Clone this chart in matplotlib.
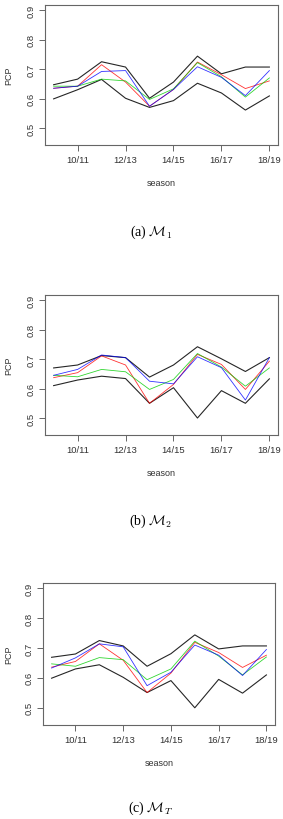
import matplotlib
matplotlib.use('Agg')
import matplotlib.pyplot as plt

plt.rcParams['font.family'] = ['Liberation Sans', 'DejaVu Sans']
plt.rcParams['mathtext.fontset'] = 'cm'

seasons = ['09/10', '10/11', '11/12', '12/13', '13/14',
           '14/15', '15/16', '16/17', '17/18', '18/19']
tick_seasons = ['10/11', '12/13', '14/15', '16/17', '18/19']

# panel (a) M_1
m1_upper = [0.647, 0.666, 0.725, 0.707, 0.601, 0.656, 0.744, 0.684, 0.707, 0.707]
m1_lower = [0.599, 0.630, 0.665, 0.601, 0.570, 0.593, 0.652, 0.619, 0.561, 0.609]
m1_red = [0.635, 0.642, 0.715, 0.656, 0.574, 0.631, 0.724, 0.681, 0.634, 0.660]
m1_green = [0.642, 0.642, 0.666, 0.660, 0.597, 0.633, 0.722, 0.674, 0.605, 0.670]
m1_blue = [0.635, 0.642, 0.692, 0.695, 0.574, 0.631, 0.708, 0.672, 0.610, 0.695]

# panel (b) M_2
m2_upper = [0.670, 0.680, 0.712, 0.705, 0.639, 0.680, 0.742, 0.701, 0.658, 0.705]
m2_lower = [0.610, 0.629, 0.642, 0.634, 0.550, 0.603, 0.500, 0.593, 0.550, 0.633]
m2_red = [0.637, 0.654, 0.711, 0.680, 0.550, 0.614, 0.716, 0.682, 0.597, 0.693]
m2_green = [0.645, 0.640, 0.665, 0.657, 0.597, 0.631, 0.719, 0.673, 0.608, 0.670]
m2_blue = [0.645, 0.665, 0.714, 0.705, 0.625, 0.616, 0.708, 0.671, 0.561, 0.705]

# panel (c) M_T
mt_upper = [0.669, 0.680, 0.725, 0.707, 0.639, 0.681, 0.744, 0.697, 0.707, 0.707]
mt_lower = [0.599, 0.630, 0.644, 0.602, 0.551, 0.591, 0.500, 0.595, 0.549, 0.610]
mt_red = [0.636, 0.655, 0.714, 0.659, 0.551, 0.616, 0.719, 0.685, 0.635, 0.676]
mt_green = [0.647, 0.639, 0.668, 0.661, 0.594, 0.630, 0.723, 0.673, 0.610, 0.670]
mt_blue = [0.633, 0.667, 0.714, 0.704, 0.574, 0.619, 0.710, 0.676, 0.608, 0.695]

captions = [r'(a) $\mathcal{M}_1$', r'(b) $\mathcal{M}_2$', r'(c) $\mathcal{M}_T$']

W, H = 283, 820
fig = plt.figure(figsize=(W / 100, H / 100), dpi=100)


def px_axes(left, top, right, bottom):
    return fig.add_axes([left / W, 1 - bottom / H, (right - left) / W, (bottom - top) / H])


panels = [
    ((45, 6, 278, 146), (m1_upper, m1_lower, m1_red, m1_green, m1_blue), 232),
    ((45, 296, 278, 436), (m2_upper, m2_lower, m2_red, m2_green, m2_blue), 521),
    ((43, 584, 275, 726), (mt_upper, mt_lower, mt_red, mt_green, mt_blue), 808),
]

x = list(range(len(seasons)))
colors = ['black', 'black', '#ff0000', '#00cc00', '#0000ff']
frame = '#666666'

for (box, series, cap_y) in panels:
    ax = px_axes(*box)
    for vals, c in zip(series, colors):
        lw = 0.8 if c == 'black' else 0.6
        ax.plot(x, vals, color=c, linewidth=lw, alpha=0.85 if c == 'black' else 0.8)
    ax.set_xlim(-0.36, 9.36)
    ax.set_ylim(0.4424, 0.9176)
    ax.set_xticks([seasons.index(s) for s in tick_seasons])
    ax.set_xticklabels(tick_seasons)
    ax.set_yticks([0.5, 0.6, 0.7, 0.8, 0.9])
    ax.set_yticklabels(['0.5', '0.6', '0.7', '0.8', '0.9'], rotation=90, va='center')
    ax.tick_params(direction='out', length=4, width=0.7, color=frame,
                   labelsize=6.8, labelcolor='#333333', pad=3)
    for sp in ax.spines.values():
        sp.set_color(frame)
        sp.set_linewidth(0.8)

    left, top, right, bottom = box
    fig.text(((left + right) / 2) / W, 1 - (bottom + 38) / H, 'season',
             ha='center', va='center', fontsize=6.5, color='#333333')
    fig.text(9 / W, 1 - ((top + bottom) / 2) / H, 'PCP', rotation=90,
             ha='center', va='center', fontsize=6.5, color='#333333')

for (box, series, cap_y), cap in zip(panels, captions):
    fig.text(151 / W, 1 - cap_y / H, cap, ha='center', va='center',
             fontsize=10, family='Liberation Serif')

plt.savefig('out.png', dpi=100)
